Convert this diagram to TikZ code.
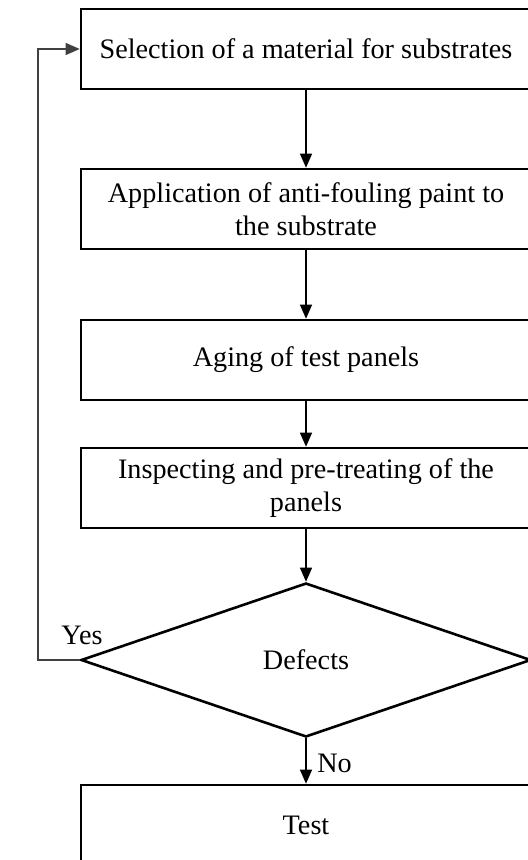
\documentclass[tikz,border=0pt]{standalone}
\usepackage{fontspec}
\setmainfont{Liberation Serif}
\usetikzlibrary{shapes.geometric,arrows.meta}

\tikzset{
  stepbox/.style={draw,line width=1.3pt,minimum width=225pt,minimum height=40pt,
    align=center,inner sep=0pt,font=\fontsize{14.1}{16.5}\selectfont},
  choice/.style={draw,diamond,line width=1.3pt,minimum width=225pt,minimum height=77pt,
    inner sep=0pt,font=\fontsize{14.1}{16.5}\selectfont},
  lbl/.style={font=\fontsize{14.1}{16.5}\selectfont}
}

\begin{document}
\begin{tikzpicture}[x=0.5pt,y=-0.5pt,>={Triangle[length=7pt,width=6pt]},line width=0.6pt]
    \clip (0,0) rectangle (528,860);
    \path (306,49) node(select)[stepbox] {Selection of a material for substrates};
    \path (306,209) node(paint)[stepbox] {Application of anti-fouling paint to\\the substrate};
    \path (select) edge[draw,->] (paint);
    \path (306,360) node(aging)[stepbox] {Aging of test panels};
    \path (paint) edge[draw,->] (aging);
    \path (306,488) node(inspect)[stepbox] {Inspecting and pre-treating of the\\panels};
    \path (aging) edge[draw,->] (inspect);
    \path (306,660) node(defects)[choice] {Defects};
    \path (inspect) edge[draw,->] (defects);
    \path (306,825) node(test)[stepbox] {Test};
    \path (defects) edge[draw,->] node[lbl,right=2pt,pos=0.55] {No} (test);
    \path (defects.west) -- (38,660) [draw,->,color=black!75] -- (38,49) -- (select.west);
    \path (82,635) node[lbl] {Yes};
\end{tikzpicture}
\end{document}
